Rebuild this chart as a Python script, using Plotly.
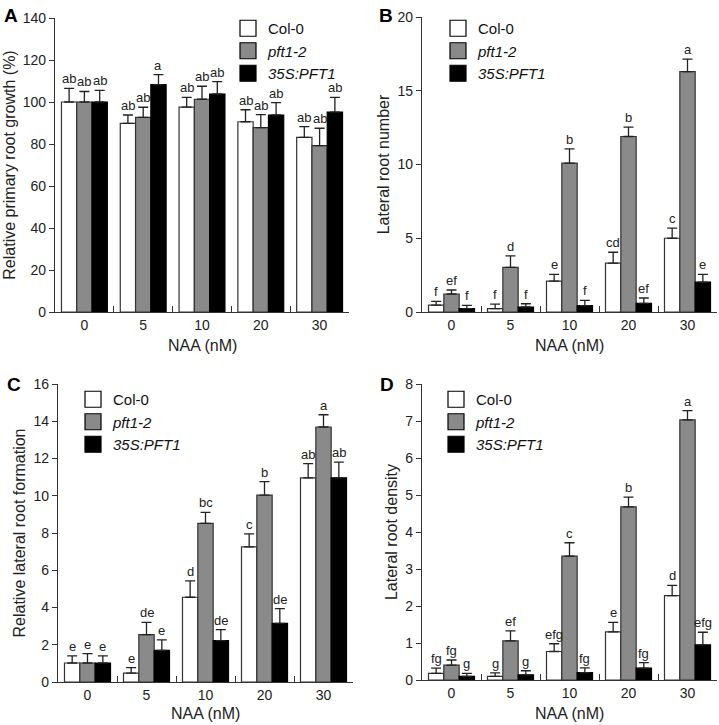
import plotly.graph_objects as go

doses = ["0", "5", "10", "20", "30"]
series_names = ["Col-0", "<i>pft1-2</i>", "<i>35S:PFT1</i>"]

# Panel A: Relative primary root growth (%)
a_col = [100, 89.8, 97.6, 90.6, 83.2]
a_col_err = [6.5, 4.0, 4.6, 5.7, 5.1]
a_pft = [100, 92.7, 101.3, 87.8, 79.2]
a_pft_err = [5.0, 4.8, 6.2, 6.2, 8.3]
a_oe = [100, 108.3, 103.8, 93.8, 95.2]
a_oe_err = [5.5, 4.7, 5.9, 5.9, 7.0]
a_letters = [["ab", "ab", "ab", "ab", "ab"], ["ab", "ab", "ab", "ab", "ab"], ["ab", "a", "ab", "ab", "ab"]]

# Panel B: Lateral root number
b_col = [0.47, 0.23, 2.09, 3.31, 5.0]
b_col_err = [0.25, 0.31, 0.46, 0.74, 0.68]
b_pft = [1.22, 3.02, 10.1, 11.9, 16.29]
b_pft_err = [0.27, 0.78, 0.96, 0.63, 0.86]
b_oe = [0.23, 0.34, 0.43, 0.59, 2.03]
b_oe_err = [0.22, 0.22, 0.36, 0.36, 0.52]
b_letters = [["f", "f", "e", "cd", "c"], ["ef", "d", "b", "b", "a"], ["f", "f", "f", "ef", "e"]]

# Panel C: Relative lateral root formation
c_col = [1.02, 0.48, 4.55, 7.25, 10.96]
c_col_err = [0.38, 0.29, 0.88, 0.70, 0.77]
c_pft = [1.02, 2.54, 8.52, 10.03, 13.69]
c_pft_err = [0.50, 0.66, 0.59, 0.73, 0.66]
c_oe = [1.02, 1.70, 2.22, 3.15, 10.96]
c_oe_err = [0.38, 0.56, 0.59, 0.79, 0.84]
c_letters = [["e", "e", "d", "c", "ab"], ["e", "de", "bc", "b", "a"], ["e", "e", "de", "de", "ab"]]

# Panel D: Lateral root density
d_col = [0.18, 0.10, 0.77, 1.30, 2.28]
d_col_err = [0.14, 0.09, 0.21, 0.26, 0.28]
d_pft = [0.40, 1.06, 3.35, 4.68, 7.03]
d_pft_err = [0.14, 0.27, 0.36, 0.26, 0.25]
d_oe = [0.10, 0.14, 0.20, 0.32, 0.95]
d_oe_err = [0.08, 0.11, 0.13, 0.15, 0.34]
d_letters = [["fg", "g", "efg", "e", "d"], ["fg", "ef", "c", "b", "a"], ["g", "g", "fg", "fg", "efg"]]

x_title = "NAA (nM)"
y_titles = ["Relative primary root growth (%)", "Lateral root number",
            "Relative lateral root formation", "Lateral root density"]
y_ranges = [[0, 140], [0, 20], [0, 16], [0, 8]]
y_dticks = [20, 5, 2, 1]
panel_labels = ["A", "B", "C", "D"]

fills = ["#ffffff", "#8a8a8a", "#000000"]
outlines = ["#333333", "#333333", "#000000"]

W, H = 719, 725
# plot areas in pixels: (x0, x1, ytop, ybottom)
areas = [(55, 349, 18, 312), (422, 717, 17, 312), (58, 353, 384, 682), (422, 717, 384, 680)]
legend_pos = [(228, 12), (438, 12), (73, 383), (436, 383)]
xtitle_y = [345, 345, 713, 713]
label_pos = [(2, 3), (377, 3), (5, 372), (378, 372)]

panels = [
    ([a_col, a_pft, a_oe], [a_col_err, a_pft_err, a_oe_err], a_letters),
    ([b_col, b_pft, b_oe], [b_col_err, b_pft_err, b_oe_err], b_letters),
    ([c_col, c_pft, c_oe], [c_col_err, c_pft_err, c_oe_err], c_letters),
    ([d_col, d_pft, d_oe], [d_col_err, d_pft_err, d_oe_err], d_letters),
]

FONT = "Arial, Liberation Sans, sans-serif"
fig = go.Figure()
layout = dict(width=W, height=H, margin=dict(l=0, r=0, t=0, b=0),
              paper_bgcolor="white", plot_bgcolor="white",
              font=dict(family=FONT, color="#222222"),
              barmode="group", bargap=0.22, bargroupgap=0,
              showlegend=True)
annotations = []
xpos = list(range(len(doses)))
bar_w = (1 - 0.22) / 3

for p, (vals, errs, letters) in enumerate(panels):
    n = p + 1
    xa = "x" if n == 1 else f"x{n}"
    ya = "y" if n == 1 else f"y{n}"
    xkey = "xaxis" if n == 1 else f"xaxis{n}"
    ykey = "yaxis" if n == 1 else f"yaxis{n}"
    lkey = "legend" if n == 1 else f"legend{n}"
    x0, x1, yt, yb = areas[p]
    for s in range(3):
        fig.add_trace(go.Bar(
            x=xpos, y=vals[s], xaxis=xa, yaxis=ya, showlegend=False,
            marker=dict(color=fills[s], line=dict(color=outlines[s], width=1.2)),
            error_y=dict(type="data", symmetric=False, array=errs[s],
                         arrayminus=[0] * len(errs[s]), color="#222222",
                         thickness=1.3, width=5),
            offsetgroup=str(s), hoverinfo="skip"))
        # legend entry
        fig.add_trace(go.Scatter(
            x=[None], y=[None], xaxis=xa, yaxis=ya, mode="markers", name=series_names[s],
            legend=lkey,
            marker=dict(symbol="square", size=16, color=fills[s],
                        line=dict(color="#000000", width=1.2))))
        for k in range(len(doses)):
            annotations.append(dict(
                x=k + (s - 1) * bar_w, y=vals[s][k] + errs[s][k], xref=xa, yref=ya,
                text=letters[s][k], showarrow=False, yanchor="bottom", yshift=0,
                font=dict(size=13, family=FONT, color="#222222")))
    layout[xkey] = dict(domain=[x0 / W, x1 / W], anchor=ya, range=[-0.5, len(doses) - 0.5],
                        tickvals=xpos, ticktext=doses, ticks="", showline=True,
                        linecolor="#333333", linewidth=1.2, showgrid=False, zeroline=False,
                        tickfont=dict(size=14),
                        automargin=False, fixedrange=True)
    layout[ykey] = dict(domain=[1 - yb / H, 1 - yt / H], anchor=xa, range=y_ranges[p],
                        dtick=y_dticks[p], tick0=0, ticks="outside", ticklen=5, tickwidth=1.2,
                        tickcolor="#333333", showline=True, linecolor="#333333", linewidth=1.2,
                        showgrid=False, zeroline=False, tickfont=dict(size=14),
                        title=dict(text=y_titles[p], font=dict(size=16), standoff=3),
                        automargin=False)
    # overlay axis for category boundary ticks
    ok = f"xaxis{n + 4}"
    layout[ok] = dict(domain=[x0 / W, x1 / W], anchor=ya, overlaying=xa,
                      range=[-0.5, len(doses) - 0.5],
                      tickvals=[k + 0.5 for k in xpos], ticks="inside", ticklen=6,
                      tickwidth=1.2, tickcolor="#333333", showticklabels=False,
                      showline=False, showgrid=False, zeroline=False, automargin=False)
    lx, ly = legend_pos[p]
    layout[lkey] = dict(x=lx / W, y=1 - ly / H, xanchor="left", yanchor="top",
                        bgcolor="rgba(0,0,0,0)", font=dict(size=15, family=FONT, color="#111111"),
                        tracegroupgap=0, itemclick=False)
    annotations.append(dict(x=(x0 + x1) / 2 / W, y=1 - xtitle_y[p] / H, xref="paper", yref="paper",
                            text=x_title, showarrow=False, xanchor="center", yanchor="middle",
                            font=dict(size=16, family=FONT, color="#222222")))
    lx2, ly2 = label_pos[p]
    annotations.append(dict(x=lx2 / W, y=1 - ly2 / H, xref="paper", yref="paper",
                            text=f"<b>{panel_labels[p]}</b>", showarrow=False,
                            xanchor="left", yanchor="top", font=dict(size=19, family=FONT, color="#000000")))

# dummy traces so overlay axes are drawn
for n in range(1, 5):
    ya = "y" if n == 1 else f"y{n}"
    fig.add_trace(go.Scatter(x=[None], y=[None], xaxis=f"x{n + 4}", yaxis=ya,
                             showlegend=False, hoverinfo="skip"))

layout["annotations"] = annotations
fig.update_layout(**layout)
fig.write_html("out.html", config={"displayModeBar": False},
               post_script="document.body.style.margin='0px';document.body.style.overflow='hidden';")
